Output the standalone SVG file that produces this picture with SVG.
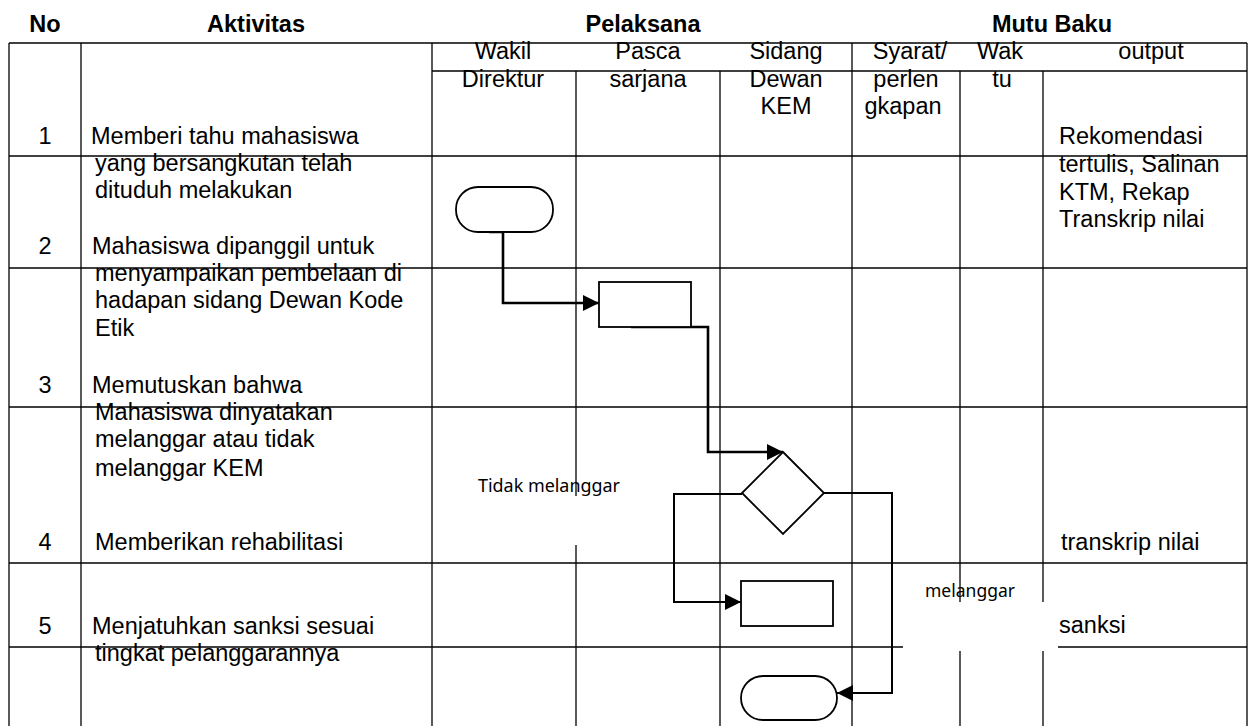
<svg xmlns="http://www.w3.org/2000/svg" width="1252" height="726" viewBox="0 0 1252 726">
<defs>
<style>
.g{stroke:#000;stroke-width:1.3;fill:none}
.t{font-family:"Liberation Sans",Arial,sans-serif;font-size:23.5px;fill:#000}
.b{font-weight:bold}
.c{text-anchor:middle}
.s{font-family:"Noto Sans","Open Sans",sans-serif;font-size:18.5px;fill:#000}
.shape{fill:#fff;stroke:#000;stroke-width:1.8}
.con{fill:none;stroke:#000;stroke-width:2.6}
.con2{fill:none;stroke:#000;stroke-width:2}
</style>
<marker id="ah" markerUnits="userSpaceOnUse" markerWidth="16" markerHeight="16" refX="16" refY="8" orient="auto">
<path d="M0,0 L16,8 L0,16 z" fill="#000"/>
</marker>
</defs>
<rect width="1252" height="726" fill="#fff"/>
<g id="grid">
<line class="g" x1="9" y1="43" x2="1247" y2="43"/>
<line class="g" x1="432" y1="71" x2="1247" y2="71"/>
<line class="g" x1="9" y1="156" x2="1247" y2="156"/>
<line class="g" x1="9" y1="268" x2="1247" y2="268"/>
<line class="g" x1="9" y1="407" x2="1247" y2="407"/>
<line class="g" x1="9" y1="563" x2="1247" y2="563"/>
<line class="g" x1="9" y1="647" x2="1247" y2="647"/>
<line class="g" x1="9" y1="43" x2="9" y2="726"/>
<line class="g" x1="81" y1="43" x2="81" y2="726"/>
<line class="g" x1="432" y1="43" x2="432" y2="726"/>
<line class="g" x1="576" y1="71" x2="576" y2="726"/>
<line class="g" x1="720" y1="71" x2="720" y2="726"/>
<line class="g" x1="852" y1="43" x2="852" y2="726"/>
<line class="g" x1="960" y1="71" x2="960" y2="726"/>
<line class="g" x1="1043" y1="71" x2="1043" y2="726"/>
<line class="g" x1="1247" y1="43" x2="1247" y2="726"/>
<rect x="566" y="496" width="20" height="49" fill="#fff"/>
<rect x="903" y="602" width="155" height="49" fill="#fff"/>
</g>
<g id="headers">
<text class="t b c" x="45" y="32">No</text>
<text class="t b c" x="256" y="32">Aktivitas</text>
<text class="t b c" x="643" y="32">Pelaksana</text>
<text class="t b c" x="1052" y="32">Mutu Baku</text>
<text class="t c" x="503" y="59">Wakil</text>
<text class="t c" x="503" y="87">Direktur</text>
<text class="t c" x="648" y="59">Pasca</text>
<text class="t c" x="648" y="87">sarjana</text>
<text class="t c" x="786" y="59">Sidang</text>
<text class="t c" x="786" y="87">Dewan</text>
<text class="t c" x="786" y="114">KEM</text>
<text class="t c" x="910" y="59">Syarat/</text>
<text class="t c" x="906" y="87">perlen</text>
<text class="t c" x="903" y="114">gkapan</text>
<text class="t c" x="1000" y="59">Wak</text>
<text class="t c" x="1002" y="87">tu</text>
<text class="t c" x="1151" y="59">output</text>
</g>
<g id="rows">
<text class="t c" x="45" y="144">1</text>
<text class="t" x="91" y="144">Memberi tahu mahasiswa</text>
<text class="t" x="95" y="171">yang bersangkutan telah</text>
<text class="t" x="95" y="198">dituduh melakukan</text>
<text class="t c" x="45" y="254">2</text>
<text class="t" x="92" y="254">Mahasiswa dipanggil untuk</text>
<text class="t" x="95" y="281">menyampaikan pembelaan di</text>
<text class="t" x="95" y="308">hadapan sidang Dewan Kode</text>
<text class="t" x="95" y="336">Etik</text>
<text class="t c" x="45" y="393">3</text>
<text class="t" x="92" y="393">Memutuskan bahwa</text>
<text class="t" x="95" y="420">Mahasiswa dinyatakan</text>
<text class="t" x="95" y="447">melanggar atau tidak</text>
<text class="t" x="95" y="476">melanggar KEM</text>
<text class="t c" x="45" y="550">4</text>
<text class="t" x="95" y="550">Memberikan rehabilitasi</text>
<text class="t c" x="45" y="634">5</text>
<text class="t" x="92" y="634">Menjatuhkan sanksi sesuai</text>
<text class="t" x="95" y="661">tingkat pelanggarannya</text>
<text class="t" x="1059" y="144">Rekomendasi</text>
<text class="t" x="1059" y="172">tertulis, Salinan</text>
<text class="t" x="1059" y="200">KTM, Rekap</text>
<text class="t" x="1059" y="227">Transkrip nilai</text>
<text class="t" x="1061" y="550">transkrip nilai</text>
<text class="t" x="1059" y="633">sanksi</text>
</g>
<g id="connectors">
<path class="con" d="M489,232 L503,232 L503,303 L599,303" marker-end="url(#ah)"/>
<path class="con" d="M631,327 L708,327 L708,452 L783,452" marker-end="url(#ah)"/>
<path class="con2" d="M742,494 L674,494 L674,602 L741,602" marker-end="url(#ah)"/>
<path class="con2" d="M824,493 L892,493 L892,693 L837,693" marker-end="url(#ah)"/>
</g>
<g id="start"><rect class="shape" x="456" y="187" width="97" height="45" rx="22"/></g>
<g id="p1"><rect class="shape" x="599" y="282" width="92" height="45"/></g>
<g id="decision"><polygon class="shape" points="783,452 824,493 783,534 742,493"/></g>
<g id="p2"><rect class="shape" x="741" y="581" width="92" height="45"/></g>
<g id="end"><rect class="shape" x="741" y="676" width="96" height="44" rx="22"/></g>
<g id="labels">
<text class="s" x="478" y="492" textLength="142" lengthAdjust="spacingAndGlyphs">Tidak melanggar</text>
<text class="s" x="925" y="597" textLength="90" lengthAdjust="spacingAndGlyphs">melanggar</text>
</g>
</svg>
